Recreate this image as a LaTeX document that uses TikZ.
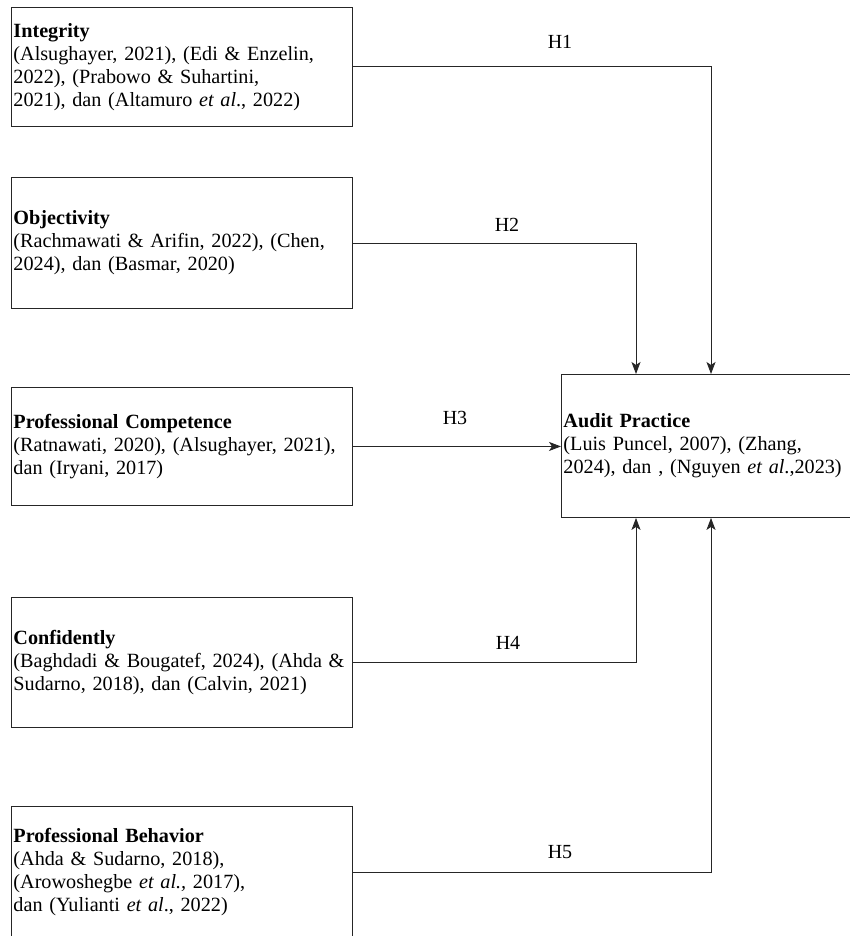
\documentclass[tikz,border=0pt]{standalone}
\usepackage{fontspec}
\setmainfont{Liberation Serif}
\usetikzlibrary{arrows.meta,calc}
\begin{document}
\begin{tikzpicture}[x=1pt,y=-1pt,
 varbox/.style={draw=black!85, line width=0.9pt, minimum width=341pt, text width=337pt,
   inner xsep=2pt, inner ysep=0pt, align=left, font=\fontsize{20.2}{23}\selectfont, anchor=north west},
 conn/.style={draw=black!85, line width=0.9pt},
 arr/.style={conn, -{Stealth[length=12pt,width=9pt,inset=3pt]}},
 hlabel/.style={font=\fontsize{20}{23}\selectfont, inner sep=0pt}]
\clip (0,0) rectangle (850,936);
\fill[white] (0,0) rectangle (850,936);

\node[varbox, minimum height=119pt] (int) at (11,7)
  {\textbf{Integrity}\\(Alsughayer, 2021), (Edi \& Enzelin,\\2022), (Prabowo \& Suhartini,\\2021), dan (Altamuro \textit{et al}., 2022)};
\node[varbox, minimum height=131pt] (obj) at (11,177)
  {\textbf{Objectivity}\\(Rachmawati \& Arifin, 2022), (Chen,\\2024), dan (Basmar, 2020)};
\node[varbox, minimum height=118pt] (comp) at (11,387)
  {\textbf{Professional Competence}\\(Ratnawati, 2020), (Alsughayer, 2021),\\dan (Iryani, 2017)};
\node[varbox, minimum height=130pt] (conf) at (11,597)
  {\textbf{Confidently}\\(Baghdadi \& Bougatef, 2024), (Ahda~\&\\Sudarno, 2018), dan (Calvin, 2021)};
\node[varbox, minimum height=132pt] (beh) at (11,806)
  {\textbf{Professional Behavior}\\(Ahda \& Sudarno, 2018),\\(Arowoshegbe \textit{et al.,} 2017),\\dan (Yulianti \textit{et al}., 2022)};
\node[varbox, minimum height=143pt, minimum width=320pt, text width=316pt] (aud) at (561,374)
  {\textbf{Audit Practice}\\(Luis Puncel, 2007), (Zhang,\\2024), dan , (Nguyen \textit{et al}.,2023)};

\coordinate (t1) at ($(aud.north west)+(150,0)$);
\coordinate (t2) at ($(aud.north west)+(75,0)$);
\coordinate (b1) at ($(aud.south west)+(150,0)$);
\coordinate (b2) at ($(aud.south west)+(75,0)$);

\draw[arr] (int.east) -| (t1);
\draw[arr] (obj.east) -| (t2);
\draw[arr] (comp.east) -- (comp.east -| aud.west);
\draw[arr] (conf.east) -| (b2);
\draw[arr] (beh.east) -| (b1);

\node[hlabel] (h1) at (560,42) {H1};
\node[hlabel] (h2) at (507,225) {H2};
\node[hlabel] (h3) at (455,418) {H3};
\node[hlabel] (h4) at (508,643) {H4};
\node[hlabel] (h5) at (560,852) {H5};
\end{tikzpicture}
\end{document}
